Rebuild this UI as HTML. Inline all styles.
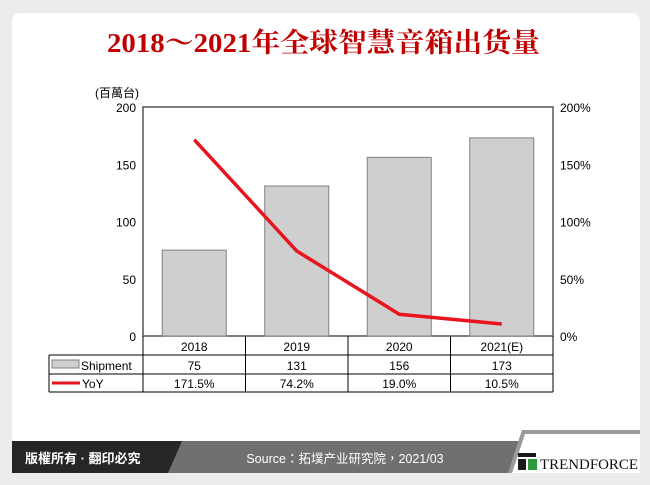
<!DOCTYPE html>
<html><head><meta charset="utf-8"><style>
body{margin:0;background:#ececec;}
#c{position:relative;width:650px;height:485px;overflow:hidden;font-family:"Liberation Sans","Noto Sans CJK TC",sans-serif;}
</style></head><body>
<div id="c">
<svg width="650" height="485" xmlns="http://www.w3.org/2000/svg" id="svg">
<rect x="12" y="13" width="628" height="460" rx="8" fill="#fff"/>
<text x="107" y="52" textLength="433" lengthAdjust="spacingAndGlyphs" font-family="Liberation Serif,Noto Serif CJK SC,serif" font-weight="bold" font-size="27" fill="#c00000">2018～2021年全球智慧音箱出货量</text>
<text x="95" y="97" font-size="12" fill="#000">(百萬台)</text>
<g id="plot"></g>
<g>
<polygon points="12,441 520,441 510,473 12,473" fill="#707070"/>
<polygon points="12,441 182,441 168,473 12,473" fill="#262626"/>
<polygon points="522,430 640,430 640,473 508,473" fill="#9a9a9a"/>
<polygon points="525,434 640,434 640,473 512,473" fill="#fff"/>
<text x="25" y="463" font-size="13" font-weight="bold" fill="#fff">版權所有 · 翻印必究</text>
<text x="345" y="463" text-anchor="middle" font-size="12.5" fill="#fff">Source：拓墣产业研究院，2021/03</text>
<rect x="518" y="453" width="18" height="4" fill="#1a1a1a"/><rect x="518" y="459" width="8" height="11" fill="#1a1a1a"/><rect x="528" y="459" width="9" height="11" fill="#2a9a3a"/>
<text x="540" y="469" textLength="98" lengthAdjust="spacingAndGlyphs" font-family="Liberation Serif,serif" font-size="15" fill="#111">TRENDFORCE</text>
</g>
</svg>
<script>
const categories=["2018","2019","2020","2021(E)"];
const shipment=[75,131,156,173];
const yoy=[171.5,74.2,19.0,10.5];
const shipLabels=["75","131","156","173"];
const yoyLabels=["171.5%","74.2%","19.0%","10.5%"];
const leftTicks=[0,50,100,150,200];
const rightTicks=[0,50,100,150,200];
const NS="http://www.w3.org/2000/svg";
const g=document.getElementById('plot');
const X0=143,X1=553,Y0=336,Y1=107,TL=49;
const cw=(X1-X0)/categories.length;
const yL=v=>Y0-(v/200)*(Y0-Y1);
const yR=v=>Y0-(v/200)*(Y0-Y1);
const xc=i=>X0+cw*(i+0.5);
function el(t,a,txt){const e=document.createElementNS(NS,t);for(const k in a)e.setAttribute(k,a[k]);if(txt!=null)e.textContent=txt;g.appendChild(e);return e;}
let e=el('rect',{x:X0,y:Y1,width:X1-X0,height:Y0-Y1,fill:'none',stroke:'#555','stroke-width':1.5});

leftTicks.forEach(v=>{const t=el('text',{x:136,y:yL(v)+5,'text-anchor':'end','font-size':12},String(v));
});
rightTicks.forEach(v=>{const t=el('text',{x:560,y:yR(v)+5,'font-size':12},v+'%');
});
shipment.forEach((v,i)=>{const b=el('rect',{x:xc(i)-32,y:yL(v),width:64,height:Y0-yL(v),fill:'#cfcfcf',stroke:'#808080','stroke-width':1});
});
const p=el('polyline',{points:yoy.map((v,i)=>xc(i)+','+yR(v)).join(' '),fill:'none',stroke:'#e8141e','stroke-width':3.5});

el('line',{x1:TL,y1:355,x2:X1,y2:355,stroke:'#000'});
el('line',{x1:TL,y1:374,x2:X1,y2:374,stroke:'#000'});
el('line',{x1:TL,y1:392,x2:X1,y2:392,stroke:'#000'});
el('line',{x1:TL,y1:355,x2:TL,y2:392,stroke:'#000'});
el('line',{x1:X1,y1:336,x2:X1,y2:392,stroke:'#000'});
for(let i=0;i<categories.length;i++)el('line',{x1:X0+cw*i,y1:336,x2:X0+cw*i,y2:392,stroke:'#000'});
categories.forEach((c,i)=>{const t=el('text',{x:xc(i),y:351,'text-anchor':'middle','font-size':12},c);

const a=el('text',{x:xc(i),y:370,'text-anchor':'middle','font-size':12},shipLabels[i]);

const b=el('text',{x:xc(i),y:388,'text-anchor':'middle','font-size':12},yoyLabels[i]);
});
let s=el('rect',{x:52,y:360,width:27,height:8,fill:'#cfcfcf',stroke:'#808080'});

s=el('text',{x:81,y:370,'font-size':12},'Shipment');

s=el('line',{x1:52,y1:383,x2:80,y2:383,stroke:'#e8141e','stroke-width':3});

s=el('text',{x:82,y:388,'font-size':12},'YoY');

</script>
</div>
</body></html>
